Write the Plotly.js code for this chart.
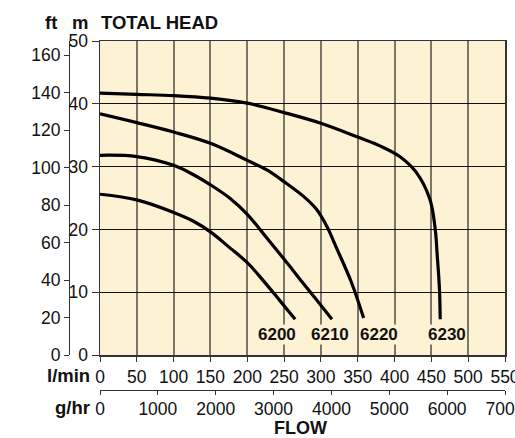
<!DOCTYPE html>
<html>
<head>
<meta charset="utf-8">
<script src="https://cdn.plot.ly/plotly-3.0.1.min.js"></script>
<style>html,body{margin:0;padding:0;background:#fff;}#chart{width:515px;height:438px;}</style>
</head>
<body>
<div id="chart"></div>
<script>
// ---- data (flow in l/min, head in m) ----
var q6200 = [0, 50, 100, 127, 150, 176, 200, 222, 244, 265];
var h6200 = [25.6, 24.7, 22.7, 21.3, 19.6, 17.1, 14.7, 11.8, 8.7, 5.7];
var q6210 = [0, 50, 100, 127, 150, 176, 200, 226, 249, 272, 294, 315];
var h6210 = [31.8, 31.6, 30.2, 28.7, 27.1, 25.0, 22.4, 18.7, 15.4, 12.0, 8.8, 5.7];
var q6220 = [0, 50, 100, 150, 200, 226, 250, 276, 294, 308, 321, 341, 358];
var h6220 = [38.4, 37.0, 35.5, 33.7, 31.0, 29.5, 27.6, 25.3, 23.2, 20.5, 17.1, 11.7, 5.9];
var q6230 = [0, 50, 100, 150, 200, 250, 300, 350, 380, 407, 430, 448, 455, 458, 461, 462];
var h6230 = [41.7, 41.5, 41.3, 40.9, 40.1, 38.6, 36.9, 34.7, 33.3, 31.6, 29.0, 24.8, 20.3, 15.8, 10.5, 5.7];
var modelNames = ["6200", "6210", "6220", "6230"];

var lpmTicks = [0, 50, 100, 150, 200, 250, 300, 350, 400, 450, 500, 550];
var gphTicks = [0, 1000, 2000, 3000, 4000, 5000, 6000, 7000];
var mTicks = [0, 10, 20, 30, 40, 50];
var ftTicks = [0, 20, 40, 60, 80, 100, 120, 140, 160];

// ---- layout geometry helpers (pixels -> paper) ----
var W = 515, H = 438;
var ML = 60, MR = 10, MT = 41, MB = 48;
var PW = W - ML - MR, PH = H - MT - MB;
function px(x){ return (x - ML) / PW; }
function py(y){ return (H - MB - y) / PH; }

var FONT = "Liberation Sans, Arial, Helvetica, sans-serif";
var CREAM = "#fef2d4";
var TXT = "#111";

var qs = [q6200, q6210, q6220, q6230];
var hs = [h6200, h6210, h6220, h6230];

var traces = qs.map(function(q, i){
  return {x: q, y: hs[i], xaxis: "x", yaxis: "y", mode: "lines",
    line: {color: "#000", width: 3.2, shape: "spline", smoothing: 1},
    hoverinfo: "skip", showlegend: false};
});
traces.push({x: gphTicks, y: gphTicks.map(function(){return 0;}), xaxis: "x2", yaxis: "y",
  mode: "none", hoverinfo: "skip", showlegend: false});
traces.push({x: ftTicks.map(function(){return 0;}), y: ftTicks, xaxis: "x", yaxis: "y2",
  mode: "none", hoverinfo: "skip", showlegend: false});

var labelShift = [-18, -2, 15, 7];
var annotations = modelNames.map(function(name, i){
  var q = qs[i];
  return {x: q[q.length - 1], y: 0, xref: "x", yref: "y", text: name, showarrow: false,
    xshift: labelShift[i], yshift: 21, xanchor: "center", yanchor: "middle",
    bgcolor: CREAM, borderpad: 0,
    font: {family: FONT, size: 17, color: TXT, weight: "bold"}};
});
function txt(text, x, y, xa, size){
  return {text: text, x: px(x), y: py(y), xref: "paper", yref: "paper", showarrow: false,
    xanchor: xa || "center", yanchor: "middle",
    font: {family: FONT, size: size || 18.5, color: TXT, weight: "bold"}};
}
annotations.push(txt("ft", 50.5, 22));
annotations.push(txt("m", 80, 22));
annotations.push(txt("TOTAL HEAD", 99, 22, "left"));
annotations.push(txt("l/min", 92, 375, "right"));
annotations.push(txt("g/hr", 92, 408, "right"));
annotations.push(txt("FLOW", 300, 428, "center", 18));

var xDom = [px(100), 1];
var yDom = [py(355), 1];
var tickFont = {family: FONT, size: 17.5, color: TXT};

var layout = {
  width: W, height: H,
  margin: {l: ML, r: MR, t: MT, b: MB, pad: 0},
  paper_bgcolor: "#ffffff",
  plot_bgcolor: CREAM,
  showlegend: false,
  xaxis: {domain: xDom, anchor: "y", range: [0, 550], tickvals: lpmTicks, ticktext: lpmTicks.map(String),
    showgrid: true, gridcolor: "#7d7565", gridwidth: 2, zeroline: false,
    showline: true, linecolor: "#333", linewidth: 1.5, mirror: true,
    ticks: "outside", ticklen: 5, tickcolor: "#333", tickwidth: 1,
    ticklabeloverflow: "allow", tickfont: tickFont, fixedrange: true},
  xaxis2: {overlaying: "x", anchor: "free", position: 0, side: "bottom", domain: xDom,
    range: [0, 7000], tickvals: gphTicks, ticktext: gphTicks.map(String),
    showgrid: false, zeroline: false, showline: true, linecolor: "#333", linewidth: 1.2,
    ticks: "outside", ticklen: 4, tickcolor: "#333", tickwidth: 1, ticklabelstandoff: -1,
    ticklabeloverflow: "allow", tickfont: tickFont, fixedrange: true},
  yaxis: {domain: yDom, anchor: "x", range: [0, 50], tickvals: mTicks, ticktext: mTicks.map(String),
    showgrid: true, gridcolor: "#111", gridwidth: 1, zeroline: false,
    showline: true, linecolor: "#333", linewidth: 1.5, mirror: true,
    ticks: "outside", ticklen: 7, tickcolor: "#333", tickwidth: 1,
    ticklabeloverflow: "allow", tickfont: tickFont, fixedrange: true},
  yaxis2: {overlaying: "y", anchor: "free", position: px(69), side: "left", domain: yDom,
    range: [0, 167.5], tickvals: ftTicks, ticktext: ftTicks.map(String),
    showgrid: false, zeroline: false, showline: true, linecolor: "#333", linewidth: 1.2,
    ticks: "outside", ticklen: 5, tickcolor: "#333", tickwidth: 1,
    ticklabeloverflow: "allow", tickfont: tickFont, fixedrange: true},
  annotations: annotations
};

Plotly.newPlot("chart", traces, layout, {displayModeBar: false, staticPlot: true});
</script>
</body>
</html>
